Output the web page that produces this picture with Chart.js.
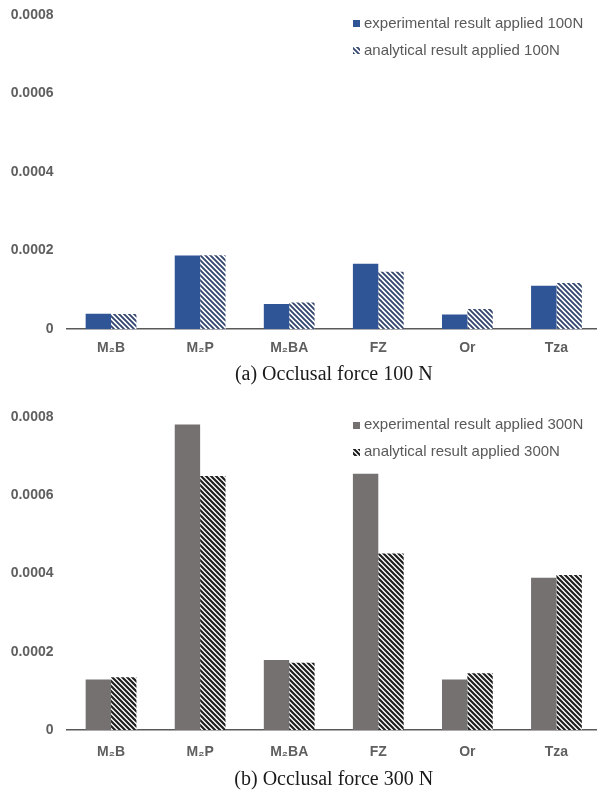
<!DOCTYPE html>
<html>
<head>
<meta charset="utf-8">
<script src="https://cdn.jsdelivr.net/npm/chart.js@4/dist/chart.umd.min.js"></script>
<style>
  html, body { margin: 0; padding: 0; background: #fff; overflow: hidden; width: 597px; height: 792px; }
  .panel { position: absolute; left: 0; }
  canvas { display: block; }
</style>
</head>
<body>
<div class="panel" style="top:0"><canvas id="chart100" width="601" height="395"></canvas></div>
<div class="panel" style="top:400px"><canvas id="chart300" width="601" height="392"></canvas></div>
<script>
// Measurement sites along the x axis
const categories = ['M₂B', 'M₂P', 'M₂BA', 'FZ', 'Or', 'Tza'];

// Occlusal force 100 N
const experimental100 = [0.000039, 0.000187, 0.0000636, 0.000166, 0.0000372, 0.000110];
const analytical100   = [0.000038, 0.000188, 0.0000677, 0.000146, 0.000051, 0.000117];

// Occlusal force 300 N
const experimental300 = [0.000129, 0.000781, 0.000179, 0.000655, 0.000129, 0.000389];
const analytical300   = [0.000135, 0.000649, 0.000172, 0.000451, 0.000145, 0.000396];

// Value-axis labels
const yTickLabels = ['0', '0.0002', '0.0004', '0.0006', '0.0008'];

const SANS = '"Liberation Sans", Arial, sans-serif';
const SERIF = '"Liberation Serif", "Times New Roman", serif';

// Diagonal "\" hatch fill
function hatch(color, size, lineWidth) {
  const c = document.createElement('canvas');
  c.width = size; c.height = size;
  const g = c.getContext('2d');
  g.fillStyle = '#ffffff';
  g.fillRect(0, 0, size, size);
  g.strokeStyle = color;
  g.lineWidth = lineWidth;
  g.beginPath();
  for (let k = -1; k <= 1; k++) {
    g.moveTo(k * size - 1, -1);
    g.lineTo(k * size + size + 1, size + 1);
  }
  g.stroke();
  return g.createPattern(c, 'repeat');
}

// Legend drawn inside the plot, upper right
const overlayLegend = {
  id: 'overlayLegend',
  afterDraw(chart, args, opts) {
    const ctx = chart.ctx;
    ctx.save();
    ctx.font = opts.font;
    ctx.textBaseline = 'middle';
    ctx.textAlign = 'left';
    chart.data.datasets.forEach((ds, i) => {
      const y = opts.y + i * opts.rowGap;
      ctx.fillStyle = ds.backgroundColor;
      ctx.fillRect(opts.x, Math.round(y - opts.box / 2), opts.box, opts.box);
      ctx.fillStyle = opts.color;
      ctx.fillText(ds.label, opts.x + opts.box + opts.gap, y);
    });
    ctx.restore();
  }
};

function buildChart(id, cfg) {
  return new Chart(document.getElementById(id), {
    type: 'bar',
    data: {
      labels: categories,
      datasets: [
        { label: cfg.labels[0], data: cfg.series[0], backgroundColor: cfg.solid, borderWidth: 0 },
        { label: cfg.labels[1], data: cfg.series[1], backgroundColor: cfg.hatched, borderWidth: 0 }
      ]
    },
    options: {
      responsive: false,
      animation: false,
      layout: { padding: { top: cfg.padTop, right: 0, bottom: 0, left: 0 } },
      datasets: { bar: { categoryPercentage: 0.57, barPercentage: 1.0 } },
      plugins: {
        legend: { display: false },
        tooltip: { enabled: false },
        overlayLegend: {
          x: 353, y: cfg.legendY, rowGap: 27, box: 7, gap: 4,
          font: '15px ' + SANS, color: '#595959'
        }
      },
      scales: {
        x: {
          z: 1,
          grid: { display: false, drawTicks: false },
          border: { display: true, color: '#595959', width: 1.5 },
          ticks: {
            padding: cfg.xTickPad,
            color: '#5f5f5f',
            font: { family: SANS, size: 14, weight: 'bold' }
          },
          title: {
            display: true,
            text: cfg.caption,
            color: '#1a1a1a',
            font: { family: SERIF, size: 20 },
            padding: { top: 0, bottom: cfg.titlePad }
          },
          afterFit(scale) {
            scale.height = cfg.xHeight;
            scale.paddingLeft = 0;
            scale.paddingRight = 0;
          }
        },
        y: {
          min: 0,
          max: 0.0008,
          grid: { display: false, drawTicks: false },
          border: { display: false },
          ticks: {
            stepSize: 0.0002,
            padding: 13,
            color: '#5f5f5f',
            font: { family: SANS, size: 14, weight: 'bold' },
            callback: (v, i) => yTickLabels[i]
          },
          afterFit(scale) {
            scale.width = 66.5;
            scale.paddingTop = 0;
            scale.paddingBottom = 0;
          }
        }
      }
    },
    plugins: [overlayLegend]
  });
}

buildChart('chart100', {
  labels: ['experimental result applied 100N', 'analytical result applied 100N'],
  series: [experimental100, analytical100],
  solid: '#2f5597',
  hatched: hatch('#34466e', 5, 1.9),
  caption: '(a) Occlusal force 100 N',
  padTop: 15,
  xHeight: 66,
  xTickPad: 11,
  titlePad: 8,
  legendY: 23.5
});

buildChart('chart300', {
  labels: ['experimental result applied 300N', 'analytical result applied 300N'],
  series: [experimental300, analytical300],
  solid: '#767171',
  hatched: hatch('#1e1e1e', 5, 2.2),
  caption: '(b) Occlusal force 300 N',
  padTop: 17,
  xHeight: 62,
  xTickPad: 14,
  titlePad: 0,
  legendY: 25
});
</script>
</body>
</html>
